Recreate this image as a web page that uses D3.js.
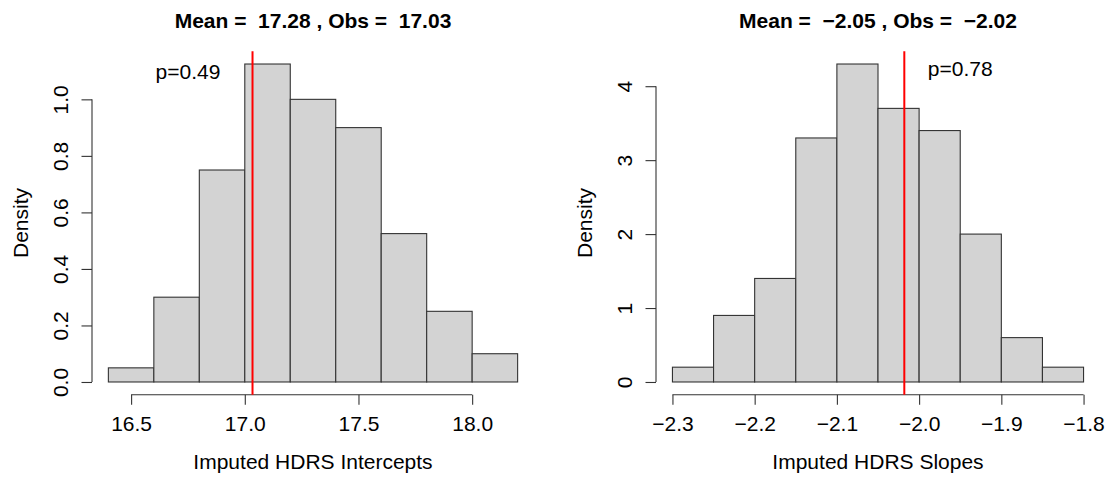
<!DOCTYPE html>
<html>
<head>
<meta charset="utf-8">
<script src="https://cdn.jsdelivr.net/npm/d3@7"></script>
<style>
  body { margin: 0; background: #fff; }
  text { font-family: "Liberation Sans", Arial, Helvetica, sans-serif; fill: #000; }
</style>
</head>
<body>
<div id="chart-area"></div>
<script>

// left panel: intercepts
var interceptBreaks = [16.4, 16.6, 16.8, 17.0, 17.2, 17.4, 17.6, 17.8, 18.0, 18.2];
var interceptDensity = [0.05, 0.30, 0.75, 1.125, 1.0, 0.9, 0.525, 0.25, 0.10];
var interceptXTicks = [16.5, 17.0, 17.5, 18.0];
var interceptYTicks = [0, 0.2, 0.4, 0.6, 0.8, 1.0];

// right panel: slopes
var slopeBreaks = [-2.3, -2.25, -2.2, -2.15, -2.1, -2.05, -2.0, -1.95, -1.9, -1.85, -1.8];
var slopeDensity = [0.2, 0.9, 1.4, 3.3, 4.3, 3.7, 3.4, 2.0, 0.6, 0.2];
var slopeXTicks = [-2.3, -2.2, -2.1, -2.0, -1.9, -1.8];
var slopeYTicks = [0, 1, 2, 3, 4];

var meanValues = [17.28, -2.05];
var obsValues = [17.034, -2.018];
var pValues = ["p=0.49", "p=0.78"];
var pLabelAt = [[16.75, 1.1], [-1.95, 4.24]];
var xTitles = ["Imputed HDRS Intercepts", "Imputed HDRS Slopes"];

var svg = d3.select("#chart-area")
  .append("svg")
  .attr("width", 1116)
  .attr("height", 478);

var fmt2 = d3.format(".2f");
var plotTop = 51.3, plotBottom = 394.7;
var lineColor = "#333";

function drawPanel(opts) {
  var lo = opts.breaks[0], hi = opts.breaks[opts.breaks.length - 1];
  var pad = (hi - lo) * 0.04;
  var ymax = d3.max(opts.density);

  var x = d3.scaleLinear().domain([lo - pad, hi + pad]).range([opts.left, opts.right]);
  var y = d3.scaleLinear().domain([-ymax * 0.04, ymax * 1.04]).range([plotBottom, plotTop]);

  var g = svg.append("g");

  var bins = opts.density.map(function(d, i) {
    return { x0: opts.breaks[i], x1: opts.breaks[i + 1], d: d };
  });

  g.selectAll("rect.bar").data(bins).enter().append("rect")
    .attr("class", "bar")
    .attr("x", function(b) { return x(b.x0); })
    .attr("width", function(b) { return x(b.x1) - x(b.x0); })
    .attr("y", function(b) { return y(b.d); })
    .attr("height", function(b) { return y(0) - y(b.d); })
    .attr("fill", "#d3d3d3")
    .attr("stroke", lineColor)
    .attr("stroke-width", 1.1);

  // x axis
  var xAxisGroup = g.append("g")
    .attr("transform", "translate(0," + plotBottom + ")")
    .call(d3.axisBottom(x).tickValues(opts.xTicks).tickFormat(d3.format(".1f")).tickSize(10).tickSizeOuter(0));
  xAxisGroup.select(".domain").remove();
  xAxisGroup.append("line")
    .attr("x1", x(opts.xTicks[0]))
    .attr("x2", x(opts.xTicks[opts.xTicks.length - 1]))
    .attr("stroke", lineColor)
    .attr("stroke-width", 1.1);
  xAxisGroup.selectAll(".tick line").attr("stroke", lineColor).attr("stroke-width", 1.1);
  xAxisGroup.selectAll(".tick text")
    .attr("y", 36)
    .attr("dy", 0)
    .attr("font-size", "21px")
    .attr("fill", "#000");

  // y axis
  var yAxisGroup = g.append("g")
    .attr("transform", "translate(" + opts.left + ",0)")
    .call(d3.axisLeft(y).tickValues(opts.yTicks).tickFormat(d3.format(opts.yFormat)).tickSize(10.5).tickSizeOuter(0));
  yAxisGroup.select(".domain").remove();
  yAxisGroup.append("line")
    .attr("y1", y(opts.yTicks[0]))
    .attr("y2", y(opts.yTicks[opts.yTicks.length - 1]))
    .attr("stroke", lineColor)
    .attr("stroke-width", 1.1);
  yAxisGroup.selectAll(".tick line").attr("stroke", lineColor).attr("stroke-width", 1.1);
  yAxisGroup.selectAll(".tick text")
    .attr("transform", "rotate(-90)")
    .attr("x", 0)
    .attr("y", -24.5)
    .attr("dy", 0)
    .attr("text-anchor", "middle")
    .attr("font-size", "21px")
    .attr("fill", "#000");

  // observed value
  g.append("line")
    .attr("x1", x(opts.obs)).attr("x2", x(opts.obs))
    .attr("y1", plotTop).attr("y2", plotBottom)
    .attr("stroke", "#ff0000")
    .attr("stroke-width", 2);

  g.append("text")
    .attr("x", x(opts.pAt[0]))
    .attr("y", y(opts.pAt[1]) + 7.5)
    .attr("text-anchor", "middle")
    .attr("font-size", "21px")
    .text(opts.pText);

  var cx = (opts.left + opts.right) / 2;

  g.append("text")
    .attr("x", cx)
    .attr("y", 27.7)
    .attr("text-anchor", "middle")
    .attr("font-size", "21px")
    .attr("font-weight", "bold")
    .style("white-space", "pre")
    .text("Mean =  " + fmt2(opts.mean) + " , Obs =  " + fmt2(opts.obs));

  g.append("text")
    .attr("x", cx)
    .attr("y", 469.3)
    .attr("text-anchor", "middle")
    .attr("font-size", "21px")
    .text(opts.xTitle);

  g.append("text")
    .attr("transform", "translate(" + (opts.left - 64) + "," + ((plotTop + plotBottom) / 2) + ") rotate(-90)")
    .attr("text-anchor", "middle")
    .attr("font-size", "21px")
    .text("Density");
}

drawPanel({
  breaks: interceptBreaks, density: interceptDensity,
  xTicks: interceptXTicks, yTicks: interceptYTicks, yFormat: ".1f",
  left: 92, right: 534,
  mean: meanValues[0], obs: obsValues[0],
  pText: pValues[0], pAt: pLabelAt[0], xTitle: xTitles[0]
});

drawPanel({
  breaks: slopeBreaks, density: slopeDensity,
  xTicks: slopeXTicks, yTicks: slopeYTicks, yFormat: "d",
  left: 656, right: 1100,
  mean: meanValues[1], obs: obsValues[1],
  pText: pValues[1], pAt: pLabelAt[1], xTitle: xTitles[1]
});

</script>
</body>
</html>
